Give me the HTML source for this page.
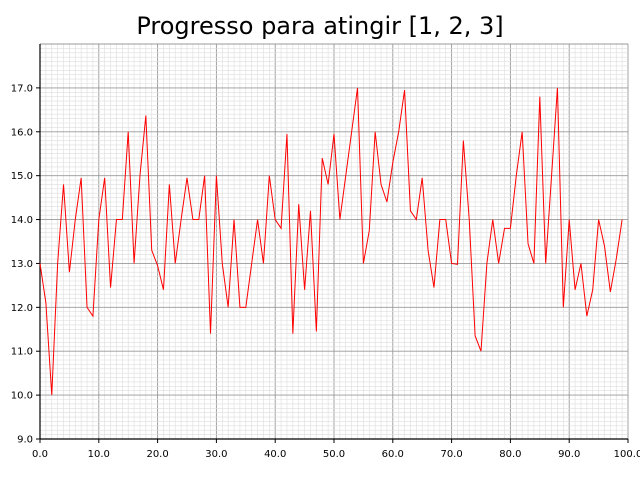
<!DOCTYPE html>
<html><head><meta charset="utf-8"><style>
body{margin:0;background:#fff;}
svg{display:block;font-family:"DejaVu Sans","Liberation Sans",sans-serif;}
</style></head><body>
<svg id="chart" width="640" height="480">
<text x="320" y="34" text-anchor="middle" font-size="24">Progresso para atingir [1, 2, 3]</text>
<g id="grid"></g><g id="axes"></g><g id="series"></g>
</svg>
<script>
const values = [13.0,12.1,10.0,13.0,14.8,12.8,14.0,14.95,12.0,11.8,
14.0,14.95,12.45,14.0,14.0,16.0,13.0,15.0,16.37,13.3,
12.95,12.4,14.8,13.0,14.0,14.95,14.0,14.0,15.0,11.4,
15.0,13.0,12.0,14.0,12.0,12.0,13.0,14.0,13.0,15.0,
14.0,13.8,15.95,11.4,14.35,12.4,14.2,11.45,15.4,14.8,
15.95,14.0,15.0,16.0,17.0,13.0,13.75,16.0,14.8,14.4,
15.3,16.0,16.95,14.2,14.0,14.95,13.3,12.45,14.0,14.0,
13.0,12.98,15.8,14.0,11.35,11.0,13.0,14.0,13.0,13.8,
13.8,15.0,16.0,13.45,13.0,16.8,13.0,15.0,17.0,12.0,
14.0,12.4,13.0,11.8,12.4,14.0,13.4,12.35,13.1,14.0];
const xTicks = [0,10,20,30,40,50,60,70,80,90,100];
const yTicks = [9,10,11,12,13,14,15,16,17];
const X0=40,X1=628,Y0=439,Y1=44,xmin=0,xmax=100,ymin=9,ymax=18;
const sx=v=>X0+(v-xmin)/(xmax-xmin)*(X1-X0);
const sy=v=>Y0-(v-ymin)/(ymax-ymin)*(Y0-Y1);
const NS="http://www.w3.org/2000/svg";
function mk(t,a,p){const e=document.createElementNS(NS,t);for(const k in a)e.setAttribute(k,a[k]);p.appendChild(e);return e;}
const grid=document.getElementById('grid'),axes=document.getElementById('axes'),ser=document.getElementById('series');
for(let v=xmin;v<=xmax;v+=1){const l=mk('line',{x1:sx(v),x2:sx(v),y1:Y1,y2:Y0,stroke:v%10==0?'#999':'#ddd','stroke-width':v%10==0?0.9:0.6},grid);

}
for(let i=0;i<=90;i++){const v=ymin+i/10;const l=mk('line',{x1:X0,x2:X1,y1:sy(v),y2:sy(v),stroke:i%10==0?'#999':'#ddd','stroke-width':i%10==0?0.9:0.6},grid);

}
const la=mk('line',{x1:X0,x2:X0,y1:Y1,y2:Y0,stroke:'#000','stroke-width':1.2},axes);


const lb=mk('line',{x1:X0,x2:X1,y1:Y0,y2:Y0,stroke:'#000','stroke-width':1.2},axes);


xTicks.forEach(v=>{mk('line',{x1:sx(v),x2:sx(v),y1:Y0,y2:Y0+4,stroke:'#000'},axes);
const t=mk('text',{x:sx(v),y:Y0+18,'text-anchor':'middle','font-size':10},axes);t.textContent=v.toFixed(1);

});
yTicks.forEach(v=>{mk('line',{x1:X0-4,x2:X0,y1:sy(v),y2:sy(v),stroke:'#000'},axes);
const t=mk('text',{x:X0-7,y:sy(v)+3.5,'text-anchor':'end','font-size':10},axes);t.textContent=v.toFixed(1);

});
const p=mk('polyline',{points:values.map((v,i)=>sx(i)+','+sy(v)).join(' '),fill:'none',stroke:'#f00','stroke-width':1},ser);


</script>
</body></html>
